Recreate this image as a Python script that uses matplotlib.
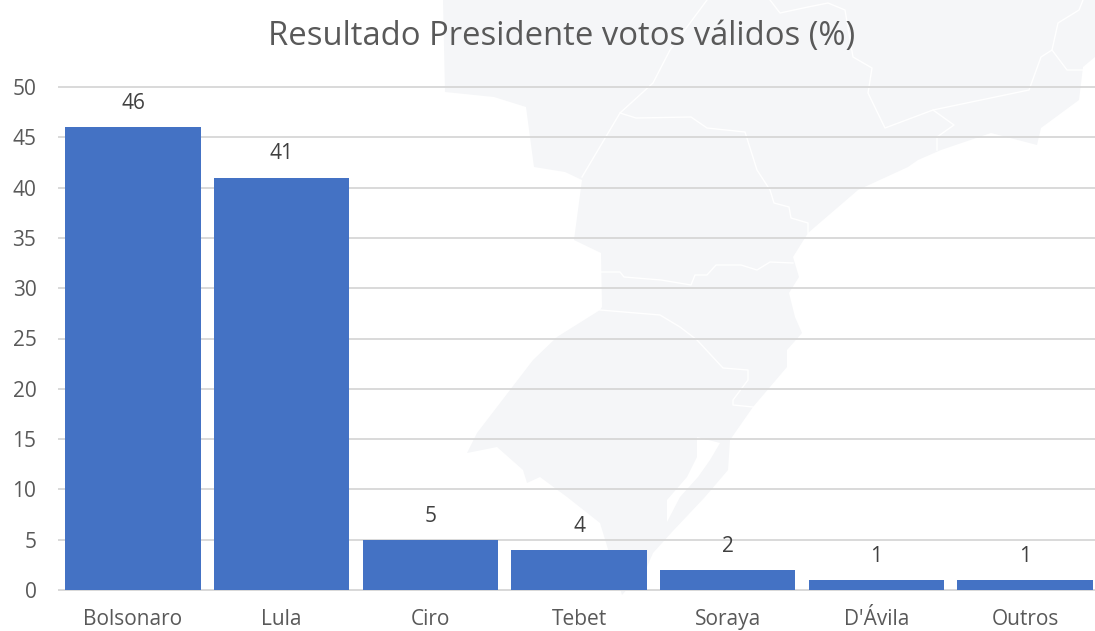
"""Resultado Presidente votos validos: bar chart over a faint map watermark."""

import matplotlib

matplotlib.use("Agg")
import matplotlib.pyplot as plt  # noqa: E402
from matplotlib.patches import Polygon  # noqa: E402

candidates = ["Bolsonaro", "Lula", "Ciro", "Tebet", "Soraya", "D'Ávila", "Outros"]
votes = [46, 41, 5, 4, 2, 1, 1]
y_ticks = [0, 5, 10, 15, 20, 25, 30, 35, 40, 45, 50]
title = "Resultado Presidente votos válidos (%)"

# watermark outline, in image pixels
map_outline = [
    (443, 0), (1095, 0), (1095, 57), (1083, 67), (1079, 100), (1041, 128), (1037, 145),
    (991, 133), (941, 150), (918, 160), (908, 167), (858, 190), (808, 233), (793, 257),
    (799, 277), (789, 293), (795, 317), (802, 333), (787, 350), (787, 367), (753, 407),
    (730, 440), (728, 470), (705, 497), (672, 532), (653, 553), (647, 567), (622, 595),
    (600, 523), (567, 497), (540, 477), (527, 483), (523, 470), (497, 447), (467, 453),
    (477, 433), (533, 360), (557, 337), (600, 310), (602, 307), (601, 253), (574, 240),
    (582, 180), (565, 172), (534, 167), (526, 107), (494, 97), (445, 92),
]
lagoon = [
    (697, 437), (720, 443), (710, 460), (698, 477), (680, 497), (667, 522),
    (667, 500), (687, 477), (697, 457),
]
state_lines = [
    [(707, 0), (670, 50), (653, 83), (620, 113), (582, 177)],
    [(620, 113), (636, 118), (691, 117), (707, 128), (745, 132), (757, 170), (770, 190),
     (774, 203), (789, 207), (791, 218), (808, 223), (808, 233)],
    [(770, 0), (780, 13), (808, 7), (828, 3), (845, 10), (853, 57), (872, 68), (868, 93),
     (885, 128), (933, 110), (1029, 90), (1041, 57), (1052, 50), (1067, 70), (1083, 70)],
    [(1052, 50), (1058, 23), (1079, 10), (1083, 0)],
    [(933, 110), (954, 125), (937, 137), (937, 150)],
    [(601, 272), (620, 272), (624, 277), (661, 280), (691, 285), (695, 275), (707, 275),
     (716, 265), (741, 265), (757, 270), (770, 262), (793, 263)],
    [(600, 310), (660, 315), (680, 327), (697, 340), (723, 368), (748, 370), (748, 380),
     (733, 400), (733, 405), (753, 407)],
]

plt.rcParams["font.family"] = ["Open Sans", "DejaVu Sans"]

W, H = 1095, 631
fig = plt.figure(figsize=(W / 100, H / 100), dpi=100, facecolor="white")

bg = fig.add_axes([0, 0, 1, 1], zorder=0)
bg.set_xlim(0, W)
bg.set_ylim(H, 0)
bg.axis("off")
bg.add_patch(Polygon(map_outline, closed=True, facecolor="#F5F6F8", edgecolor="none"))
bg.add_patch(Polygon(lagoon, closed=True, facecolor="white", edgecolor="none"))
for line in state_lines:
    bg.plot(*zip(*line), color="white", lw=1.0)

# plot area runs a little past the right edge of the image, as in the reference
left, right, top, bottom = 58.6, 1099.5, 87, 590
ax = fig.add_axes([left / W, 1 - bottom / H, (right - left) / W, (bottom - top) / H], zorder=1)
ax.patch.set_visible(False)

x = range(len(candidates))
bars = ax.bar(x, votes, width=0.91, color="#4472C4", zorder=3)
ax.set_xlim(-0.5, len(candidates) - 0.5)
ax.set_ylim(0, 50)
ax.set_xticks(list(x), candidates)
ax.set_yticks(y_ticks)
ax.grid(axis="y", color="#D9D9D9", lw=1.4, zorder=1, clip_on=False)
ax.set_axisbelow(True)
ax.tick_params(length=0, labelcolor="#595959", labelsize=15)
ax.tick_params(axis="x", pad=13.5)
ax.tick_params(axis="y", pad=16)
for name, spine in ax.spines.items():
    spine.set_visible(name == "bottom")
ax.spines["bottom"].set_color("#D9D9D9")
ax.spines["bottom"].set_linewidth(1.4)

for bar, value in zip(bars, votes):
    ax.annotate(
        str(value),
        (bar.get_x() + bar.get_width() / 2, value),
        xytext=(0, 17),
        textcoords="offset points",
        ha="center",
        va="center",
        color="#404040",
        fontsize=15,
        zorder=4,
    )

fig.text(562 / W, 1 - 36 / H, title, ha="center", va="center", color="#595959", fontsize=23.55)

fig.savefig("out.png", dpi=100)
